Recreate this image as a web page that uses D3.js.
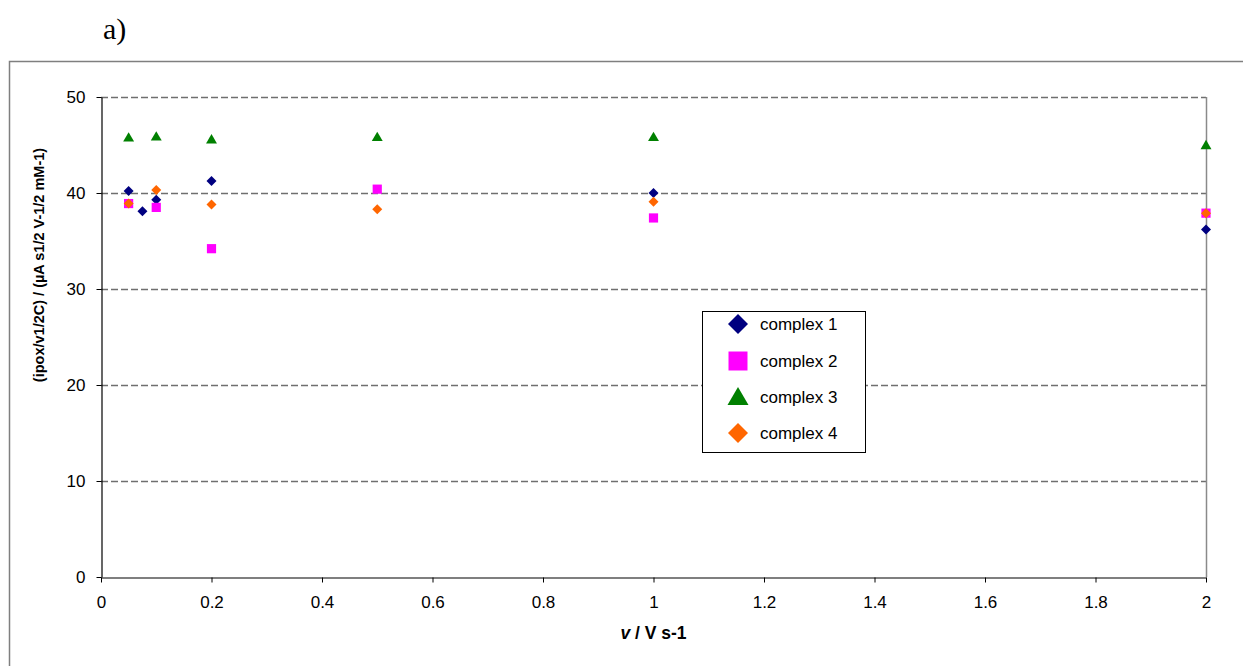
<!DOCTYPE html>
<html>
<head>
<meta charset="utf-8">
<script src="https://cdn.jsdelivr.net/npm/d3@7"></script>
<style>
  html, body { margin: 0; padding: 0; background: #fff; }
  svg { display: block; font-family: "Liberation Sans", Arial, sans-serif; }
</style>
</head>
<body>
<svg id="chart" width="1244" height="666"></svg>
<script>
// Scan rates (V s-1) and normalised oxidation peak currents for each complex
const scanRates1 = [0.05, 0.075, 0.1, 0.2, 1, 2];
const complex1 = [40.2, 38.1, 39.3, 41.25, 40.0, 36.2];

const scanRates2 = [0.05, 0.1, 0.2, 0.5, 1, 2];
const complex2 = [38.9, 38.5, 34.2, 40.4, 37.4, 37.9];

const scanRates3 = [0.05, 0.1, 0.2, 0.5, 1, 2];
const complex3 = [45.8, 45.9, 45.6, 45.85, 45.85, 45.0];

const scanRates4 = [0.05, 0.1, 0.2, 0.5, 1, 2];
const complex4 = [38.9, 40.3, 38.8, 38.3, 39.1, 37.9];

const seriesNames = ["complex 1", "complex 2", "complex 3", "complex 4"];
const seriesColors = ["#000080", "#ff00ff", "#008000", "#ff6600"];
const seriesShapes = ["diamond", "square", "triangle", "diamond"];

const xTicks = [0, 0.2, 0.4, 0.6, 0.8, 1, 1.2, 1.4, 1.6, 1.8, 2];
const yTicks = [0, 10, 20, 30, 40, 50];

const series = [
  { x: scanRates1, y: complex1 },
  { x: scanRates2, y: complex2 },
  { x: scanRates3, y: complex3 },
  { x: scanRates4, y: complex4 }
];

const svg = d3.select("#chart");
const sans = "'Liberation Sans', Arial, sans-serif";

const plot = { left: 101, right: 1206, top: 97, bottom: 577 };
const x = d3.scaleLinear().domain([0, 2]).range([plot.left, plot.right]);
const y = d3.scaleLinear().domain([0, 50]).range([plot.bottom, plot.top]);

// Panel label
svg.append("text")
  .attr("x", 103).attr("y", 39)
  .style("font-family", "'Liberation Serif', 'Times New Roman', serif")
  .style("font-size", "30px")
  .attr("fill", "#000")
  .text("a)");

// Chart area frame (top and left edges visible)
svg.append("path")
  .attr("d", "M9.5,700 L9.5,61.5 L1243,61.5")
  .attr("fill", "none")
  .attr("stroke", "#7f7f7f")
  .attr("stroke-width", 1.5);

// Dashed horizontal gridlines
svg.append("g")
  .selectAll("line")
  .data(yTicks.filter(d => d > 0))
  .join("line")
  .attr("x1", plot.left).attr("x2", plot.right)
  .attr("y1", d => y(d) + 0.5).attr("y2", d => y(d) + 0.5)
  .attr("stroke", "#6f6f6f")
  .attr("stroke-width", 1.3)
  .attr("stroke-dasharray", "7,3");

// Right edge of plot area
svg.append("line")
  .attr("x1", plot.right + 0.5).attr("x2", plot.right + 0.5)
  .attr("y1", plot.top).attr("y2", plot.bottom)
  .attr("stroke", "#8a8a8a")
  .attr("stroke-width", 1.5);

// Y axis
const yAxis = svg.append("g")
  .attr("transform", `translate(${plot.left + 0.5},0)`)
  .call(d3.axisLeft(y).tickValues(yTicks).tickSize(5).tickPadding(11).tickSizeOuter(0));
yAxis.select(".domain").attr("stroke", "#000").attr("stroke-width", 1.2);
yAxis.selectAll(".tick line").attr("stroke", "#000");
yAxis.selectAll(".tick text")
  .style("font-size", "17px")
  .style("font-family", sans)
  .attr("fill", "#000");

// X axis
const xAxis = svg.append("g")
  .attr("transform", `translate(0,${plot.bottom + 0.5})`)
  .call(d3.axisBottom(x).tickValues(xTicks).tickSize(5).tickPadding(13).tickSizeOuter(0)
    .tickFormat(d3.format("~g")));
xAxis.select(".domain").attr("stroke", "#000").attr("stroke-width", 1.2);
xAxis.selectAll(".tick line").attr("stroke", "#000");
xAxis.selectAll(".tick text")
  .style("font-size", "17px")
  .style("font-family", sans)
  .attr("fill", "#000");

// Axis titles
const xTitle = svg.append("text")
  .attr("x", (plot.left + plot.right) / 2)
  .attr("y", 639)
  .attr("text-anchor", "middle")
  .style("font-size", "17.5px")
  .style("font-weight", "bold")
  .attr("fill", "#000");
xTitle.append("tspan").style("font-style", "italic").text("v");
xTitle.append("tspan").text(" / V s-1");

svg.append("text")
  .attr("transform", "translate(44,265) rotate(-90)")
  .attr("text-anchor", "middle")
  .style("font-size", "14.5px")
  .style("font-weight", "bold")
  .attr("fill", "#000")
  .text("(ipox/v1/2C) / (\u00b5A s1/2 V-1/2 mM-1)");

// Marker path generator
function markerPath(shape, s) {
  if (shape === "diamond") {
    return `M0,${-s} L${s},0 L0,${s} L${-s},0 Z`;
  }
  if (shape === "square") {
    return `M${-s},${-s} L${s},${-s} L${s},${s} L${-s},${s} Z`;
  }
  // triangle
  const h = s * 1.8;
  return `M0,${-h * 0.55} L${s * 1.05},${h * 0.45} L${-s * 1.05},${h * 0.45} Z`;
}

const markerSize = { diamond: 5, square: 4.6, triangle: 5.2 };

series.forEach((s, i) => {
  const pts = s.x.map((v, j) => ({ x: v, y: s.y[j] }));
  svg.append("g")
    .selectAll("path")
    .data(pts)
    .join("path")
    .attr("transform", d => `translate(${x(d.x)},${y(d.y)})`)
    .attr("d", markerPath(seriesShapes[i], markerSize[seriesShapes[i]]))
    .attr("fill", seriesColors[i]);
});

// Legend
const legend = svg.append("g");
legend.append("rect")
  .attr("x", 702.5).attr("y", 311.5)
  .attr("width", 163).attr("height", 141)
  .attr("fill", "#fff")
  .attr("stroke", "#000")
  .attr("stroke-width", 1);
const legendRows = [324, 361, 397, 433];
seriesNames.forEach((name, i) => {
  const shape = seriesShapes[i];
  const size = shape === "diamond" ? 10 : shape === "square" ? 9.5 : 10;
  legend.append("path")
    .attr("transform", `translate(738,${legendRows[i]})`)
    .attr("d", markerPath(shape, size))
    .attr("fill", seriesColors[i]);
  legend.append("text")
    .attr("x", 760)
    .attr("y", legendRows[i] + 6)
    .style("font-size", "17px")
    .attr("fill", "#000")
    .text(name);
});
</script>
</body>
</html>
